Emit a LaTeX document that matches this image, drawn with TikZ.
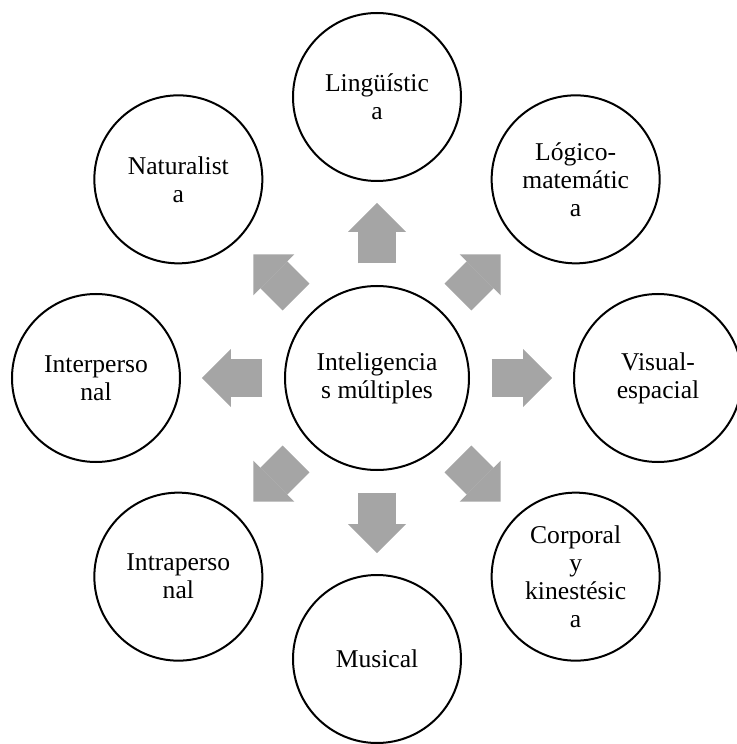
\documentclass[tikz,border=0pt]{standalone}
\usepackage{fontspec}
\setmainfont{Liberation Serif}
\usetikzlibrary{positioning,arrows.meta}
\definecolor{arrowgray}{RGB}{165,165,165}

\begin{document}
\begin{tikzpicture}[
    every node/.style={align=center, font=\fontsize{12.8pt}{14pt}\selectfont},
    hub/.style={circle, draw=black, line width=1pt, minimum size=92pt, inner sep=0pt, outer sep=0pt},
    leaf/.style={circle, draw=black, line width=1pt, minimum size=84pt, inner sep=0pt, outer sep=0pt},
    arrow/.style={-{Triangle[length=14.5pt, width=29pt, line width=0pt]}, line width=19pt, draw=arrowgray, shorten <=11.25pt, shorten >=11pt}
]
    \useasboundingbox (-188.5pt,-183pt) rectangle (180pt,189pt);

    % Centre
    \node[hub] (mi) at (0,0) {Inteligencia\\s múltiples};

    % Outer ring
    \node[leaf, above=52.5pt of mi] (ling) {Lingüístic\\a};
    \node[leaf, above right=37.1pt and 37.1pt of mi] (logico) {Lógico-\\matemátic\\a};
    \node[leaf, right=52.5pt of mi] (visual) {Visual-\\espacial};
    \node[leaf, below right=37.1pt and 37.1pt of mi] (corporal) {Corporal\\y\\kinestésic\\a};
    \node[leaf, below=52.5pt of mi] (musical) {Musical};
    \node[leaf, below left=37.1pt and 37.1pt of mi] (intra) {Intraperso\\nal};
    \node[leaf, left=52.5pt of mi] (inter) {Interperso\\nal};
    \node[leaf, above left=37.1pt and 37.1pt of mi] (natural) {Naturalist\\a};

    % Arrows
    \draw[arrow] (mi) -- (ling);
    \draw[arrow] (mi) -- (logico);
    \draw[arrow] (mi) -- (visual);
    \draw[arrow] (mi) -- (corporal);
    \draw[arrow] (mi) -- (musical);
    \draw[arrow] (mi) -- (intra);
    \draw[arrow] (mi) -- (inter);
    \draw[arrow] (mi) -- (natural);

\end{tikzpicture}
\end{document}
